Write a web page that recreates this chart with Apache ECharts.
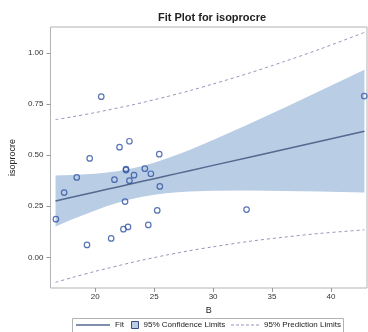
<!DOCTYPE html>
<html><head><meta charset="utf-8">
<script src="https://cdn.jsdelivr.net/npm/echarts@6/dist/echarts.min.js"></script>
<style>html,body{margin:0;padding:0;background:#fff}#c{width:368px;height:332px}</style>
</head><body><div id="c"></div>
<script>
// Observations
const xB = [22.06,22.90,25.43,22.61,22.61,24.21,24.72,23.29,21.63,22.90,25.48,22.53,25.26,24.50,22.78,22.39,21.35,19.53,18.43,17.36,16.66,19.30,20.51,42.83,32.84];
const yIso = [0.539,0.568,0.505,0.432,0.427,0.434,0.409,0.402,0.380,0.375,0.347,0.273,0.230,0.159,0.149,0.138,0.093,0.484,0.391,0.317,0.187,0.061,0.786,0.789,0.234];
// Fit and limits read at sample B values
const bandX    = [16.63,18,20,21,22,23,24,25,26,27,28,30,33,36,39,42.84];
const fitY     = [0.276,0.294,0.320,0.333,0.346,0.359,0.372,0.385,0.398,0.411,0.424,0.450,0.489,0.528,0.567,0.617];
const clmLower = [0.151,0.185,0.230,0.251,0.269,0.285,0.297,0.307,0.314,0.319,0.322,0.326,0.327,0.325,0.322,0.317];
const clmUpper = [0.401,0.403,0.409,0.415,0.423,0.433,0.447,0.463,0.482,0.503,0.525,0.574,0.651,0.731,0.812,0.917];
const pLower   = [-0.122,-0.099,-0.068,-0.054,-0.040,-0.026,-0.013,-0.001,0.011,0.022,0.033,0.052,0.078,0.099,0.117,0.135];
const pUpper   = [0.674,0.687,0.708,0.720,0.732,0.744,0.757,0.771,0.785,0.800,0.815,0.848,0.900,0.957,1.017,1.100];
const xTicks = [20,25,30,35,40];
const yTicks = [0,0.25,0.5,0.75,1.0];

const FONT = 'Liberation Sans, Arial, sans-serif';
const bandColor = '#b9cde5', fitColor = '#55698f', predColor = '#9497bd', ptColor = '#2f52a0';
const chart = echarts.init(document.getElementById('c'), null, {renderer:'canvas'});
const bandRows = bandX.map((x,i)=>[x, clmLower[i], clmUpper[i]]);
const dashPath = 'path://M0,0H3V1H0Z M5,0H8V1H5Z M10,0H13V1H10Z M15,0H18V1H15Z M20,0H23V1H20Z M25,0H28V1H25Z';

chart.setOption({
  animation:false,
  backgroundColor:'#fff',
  title:{text:'Fit Plot for isoprocre', left:207, textAlign:'center', top:7,
    textStyle:{fontFamily:FONT, fontSize:11, fontWeight:'bold', color:'#222'}},
  grid:{left:48, right:1, top:27, bottom:44, show:true, borderColor:'#b3b3b3', borderWidth:1, backgroundColor:'transparent'},
  xAxis:{type:'value', min:16.2, max:43.06, name:'B', nameLocation:'middle', nameGap:16,
    nameTextStyle:{fontFamily:FONT, fontSize:9, color:'#222'},
    axisLine:{show:false, onZero:false}, splitLine:{show:false},
    axisTick:{show:true, customValues:xTicks, length:4, lineStyle:{color:'#999'}},
    axisLabel:{customValues:xTicks, fontFamily:FONT, fontSize:8, color:'#333', margin:5}},
  yAxis:{type:'value', min:-0.1495, max:1.1266, name:'isoprocre', nameLocation:'middle', nameGap:30,
    nameTextStyle:{fontFamily:FONT, fontSize:9, color:'#222'},
    axisLine:{show:false, onZero:false}, splitLine:{show:false},
    axisTick:{show:true, customValues:yTicks, length:4, lineStyle:{color:'#999'}},
    axisLabel:{customValues:yTicks, fontFamily:FONT, fontSize:8, color:'#333', margin:7,
      formatter:v=>v.toFixed(2)}},
  legend:[
    {left:76, top:321, itemWidth:34, itemHeight:8, itemGap:0, padding:0,
     textStyle:{fontFamily:FONT, fontSize:8, color:'#222'},
     data:[{name:'Fit', icon:'path://M0,0H34V1.3H0Z', itemStyle:{color:fitColor}}]},
    {left:131, top:321, itemWidth:7, itemHeight:7, itemGap:0, padding:0,
     textStyle:{fontFamily:FONT, fontSize:8, color:'#222'},
     data:[{name:'95% Confidence Limits', icon:'rect', itemStyle:{color:bandColor, borderColor:'#3a4f80', borderWidth:1}}]},
    {left:231, top:321, itemWidth:28, itemHeight:8, itemGap:0, padding:0,
     textStyle:{fontFamily:FONT, fontSize:8, color:'#222'},
     data:[{name:'95% Prediction Limits', icon:dashPath, itemStyle:{color:predColor}}]}
  ],
  graphic:[{type:'rect', shape:{x:72.5, y:318.5, width:271, height:16}, style:{fill:'none', stroke:'#b3b3b3', lineWidth:1}, silent:true}],
  series:[
    {name:'95% Confidence Limits', type:'custom', z:1, data:bandRows, encode:{x:0, y:[1,2]},
     itemStyle:{color:bandColor},
     renderItem:function(params, api){
       if (params.dataIndex !== 0) return null;
       const pts = [];
       for (let i=0;i<bandRows.length;i++) pts.push(api.coord([bandRows[i][0], bandRows[i][2]]));
       for (let i=bandRows.length-1;i>=0;i--) pts.push(api.coord([bandRows[i][0], bandRows[i][1]]));
       return {type:'polygon', shape:{points:pts}, style:{fill:bandColor}};
     }},
    {name:'Fit', type:'line', z:3, data:bandX.map((x,i)=>[x, fitY[i]]), showSymbol:false, symbol:'none',
     lineStyle:{color:fitColor, width:1.5}, itemStyle:{color:fitColor}},
    {name:'95% Prediction Limits', type:'line', z:3, data:bandX.map((x,i)=>[x, pUpper[i]]), symbol:'none', smooth:0.3,
     lineStyle:{color:predColor, width:1, type:[3,3]}, itemStyle:{color:predColor}},
    {name:'95% Prediction Limits', type:'line', z:3, data:bandX.map((x,i)=>[x, pLower[i]]), symbol:'none', smooth:0.3,
     lineStyle:{color:predColor, width:1, type:[3,3]}, itemStyle:{color:predColor}},
    {name:'isoprocre', type:'scatter', z:4, data:xB.map((x,i)=>[x, yIso[i]]), symbol:'circle', symbolSize:5.5,
     itemStyle:{color:'rgba(255,255,255,0)', borderColor:ptColor, borderWidth:1.2}}
  ]
});
</script></body></html>
